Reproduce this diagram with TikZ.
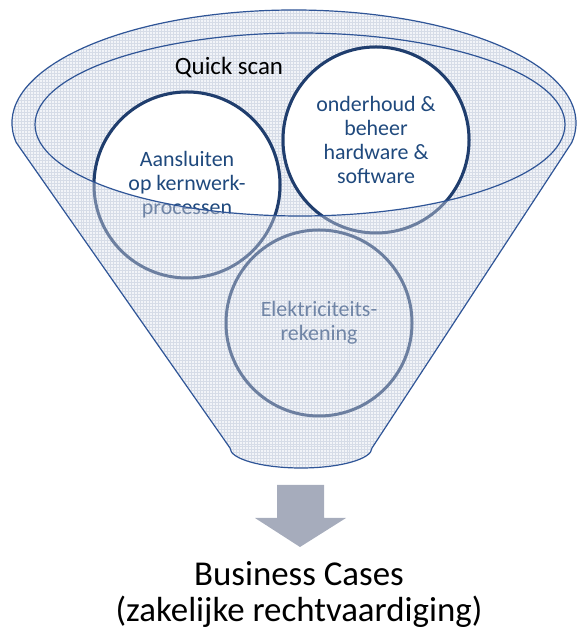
\documentclass[tikz,border=0pt]{standalone}
\usepackage{fontspec}
\setmainfont{Carlito}
\usetikzlibrary{patterns}
\definecolor{rimblue}{RGB}{47,85,151}
\definecolor{ringblue}{RGB}{32,62,110}
\definecolor{textblue}{RGB}{31,73,125}
\definecolor{ringpale}{RGB}{108,127,160}
\definecolor{textpale}{RGB}{112,133,166}
\definecolor{funnelbg}{RGB}{242,244,248}
\definecolor{gridline}{RGB}{214,220,231}
\definecolor{arrowgray}{RGB}{166,172,188}
\tikzset{
	topic/.style={circle,draw=ringblue,line width=3bp,fill=white,minimum size=186bp,inner sep=0pt,
		align=center,text=textblue,font=\fontsize{22}{24}\selectfont},
	topic pale/.style={topic,fill=none,draw=ringpale,text=textpale},
	rim/.style={draw=rimblue,line width=1.2bp},
	grid fill/.style={pattern=grid,pattern color=gridline},
}
\newcommand\funnelpath{(tl) arc[start angle=190,end angle=-10,x radius=282,y radius=113] -- (br)
	arc[start angle=0,end angle=-180,x radius=71,y radius=20] -- cycle}

\begin{document}
\begin{tikzpicture}[x=1bp,y=1bp]
		\useasboundingbox (0,0) rectangle (577,632);
		\coordinate (o) at (294,509);
		\coordinate (i) at (300,507.5);
		\path (o) ++(190:282 and 113) coordinate (tl);
		\coordinate (br) at (372,184);
		\fill[funnelbg] \funnelpath;
		\fill[grid fill] \funnelpath;
		\node[topic pale] (elek) at (319,309) {Elektriciteits-\\rekening};
		\node[topic pale] (aanspale) at (187,447) {Aansluiten\\op kernwerk-\\processen};
		\node[topic pale] (onderpale) at (376,492) {onderhoud \&\\beheer\\hardware \&\\software};
		\begin{scope}
			\clip (i) ellipse[x radius=265,y radius=91.5];
			\node[topic] (aans) at (187,447) {Aansluiten\\op kernwerk-\\processen};
			\node[topic] (onder) at (376,492) {onderhoud \&\\beheer\\hardware \&\\software};
		\end{scope}
		\draw[rim] \funnelpath;
		\draw[rim] (i) ellipse[x radius=265,y radius=91.5];
		\node[anchor=base,font=\fontsize{25}{30}\selectfont] (scan) at (229,557) {Quick scan};
		\coordinate (a1) at (277,147);
		\coordinate (a2) at (324,147);
		\coordinate (a3) at (346,114);
		\coordinate (tip) at (300,85);
		\coordinate (a4) at (255,114);
		\fill[arrowgray] (a1) -- (a2) -- (a2 |- a3) -- (a3) -- (tip) -- (a4) -- (a1 |- a4) -- cycle;
		\node[anchor=base,font=\fontsize{35}{38}\selectfont] (cases) at (299,46) {Business Cases};
		\node[anchor=base,font=\fontsize{35}{38}\selectfont] (casessub) at (299,10) {(zakelijke rechtvaardiging)};
	\end{tikzpicture}
\end{document}
